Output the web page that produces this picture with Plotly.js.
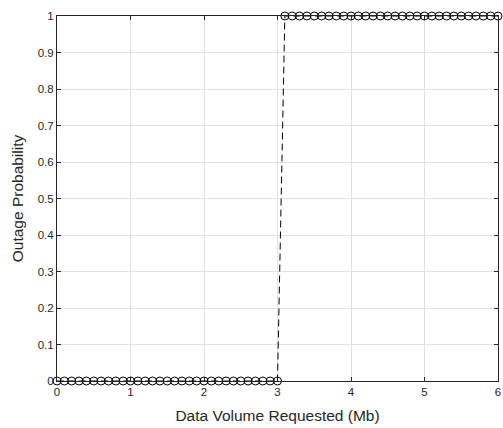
<!DOCTYPE html>
<html>
<head>
<meta charset="utf-8">
<script src="https://cdn.plot.ly/plotly-3.0.1.min.js"></script>
<style>html,body{margin:0;padding:0;background:#fff;}#chart{width:503px;height:428px;}</style>
</head>
<body>
<div id="chart"></div>
<script>
const dataVolume = [0,0.1,0.2,0.3,0.4,0.5,0.6,0.7,0.8,0.9,1,1.1,1.2,1.3,1.4,1.5,1.6,1.7,1.8,1.9,2,2.1,2.2,2.3,2.4,2.5,2.6,2.7,2.8,2.9,3,3.1,3.2,3.3,3.4,3.5,3.6,3.7,3.8,3.9,4,4.1,4.2,4.3,4.4,4.5,4.6,4.7,4.8,4.9,5,5.1,5.2,5.3,5.4,5.5,5.6,5.7,5.8,5.9,6];
const outageProb = [0,0,0,0,0,0,0,0,0,0,0,0,0,0,0,0,0,0,0,0,0,0,0,0,0,0,0,0,0,0,0,1,1,1,1,1,1,1,1,1,1,1,1,1,1,1,1,1,1,1,1,1,1,1,1,1,1,1,1,1,1];
const xTicks = [0,1,2,3,4,5,6];
const yTicks = [0,0.1,0.2,0.3,0.4,0.5,0.6,0.7,0.8,0.9,1];

const FONT = 'Liberation Sans, Arial, sans-serif';
const trace = {
  x: dataVolume, y: outageProb, type: 'scatter', mode: 'lines+markers',
  line: {color: '#000', width: 1, dash: '7px,4px'},
  marker: {symbol: 'circle-open', size: 8, color: '#000', line: {width: 1, color: '#000'}},
  cliponaxis: false, showlegend: false
};
const axisCommon = {
  showline: true, linecolor: '#262626', linewidth: 1, mirror: 'ticks',
  ticks: 'inside', ticklen: 4, tickcolor: '#262626',
  showgrid: true, gridcolor: '#e1e1e1', gridwidth: 1, zeroline: false,
  tickfont: {family: FONT, size: 11.5, color: '#262626'},
  tickmode: 'array'
};
const layout = {
  width: 503, height: 428,
  margin: {l: 57, r: 5, t: 16, b: 47},
  paper_bgcolor: '#fff', plot_bgcolor: '#fff',
  xaxis: Object.assign({}, axisCommon, {
    range: [0, 6], tickvals: xTicks, ticktext: xTicks.map(String),
    title: {text: 'Data Volume Requested (Mb)', standoff: 13,
      font: {family: FONT, size: 15.5, color: '#262626'}}
  }),
  yaxis: Object.assign({}, axisCommon, {
    range: [0, 1], tickvals: yTicks, ticktext: yTicks.map(String),
    title: {text: 'Outage Probability', standoff: 10,
      font: {family: FONT, size: 15.5, color: '#262626'}}
  })
};
Plotly.newPlot('chart', [trace], layout, {displayModeBar: false, staticPlot: true});
</script>
</body>
</html>
